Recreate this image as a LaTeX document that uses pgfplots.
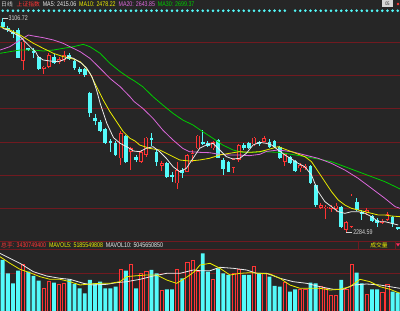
\documentclass[border=0pt]{standalone}
\usepackage{pgfplots}
\pgfplotsset{compat=1.18}
\usepackage{pgfplotstable}
\usepackage{fontspec}
\setmainfont{Liberation Sans}
\newfontfamily\cjk{Noto Sans CJK SC}
\newfontfamily\nar[FakeStretch=0.78]{Liberation Sans}

\definecolor{bg}{RGB}{38,38,38}
\definecolor{gridred}{RGB}{112,26,32}
\definecolor{ccyan}{RGB}{84,250,250}
\definecolor{cred}{RGB}{255,52,52}
\definecolor{mawhite}{RGB}{235,235,235}
\definecolor{mayellow}{RGB}{236,236,0}
\definecolor{mamag}{RGB}{218,104,218}
\definecolor{magreen}{RGB}{0,205,0}
\definecolor{lbl}{RGB}{215,215,215}

% falling days: i open high low close volume(1e8)
\pgfplotstableread{
i o h l c v
1 3092.6 3106.72 3067.0 3073.4 127.5
2 3069.6 3077.3 3054.2 3060.6 94.2
3 3054.2 3060.6 3028.6 3044.0 69.2
4 3060.6 3067.0 2951.8 2954.3 100.8
6 2990.2 2992.7 2979.9 2982.5 98.3
7 2979.9 2990.2 2954.3 2971.0 87.5
8 2958.2 2962.0 2906.9 2910.8 75.8
11 2958.2 2967.1 2928.7 2932.6 70.8
14 2964.6 2971.0 2945.3 2947.9 79.2
15 2941.5 2947.9 2906.9 2913.4 67.5
16 2909.5 2919.8 2890.3 2900.5 56.7
17 2910.8 2915.9 2881.3 2887.7 44.2
18 2819.8 2823.7 2727.6 2740.4 77.5
19 2723.8 2736.6 2695.6 2711.0 69.2
20 2708.4 2714.8 2670.0 2673.8 73.3
21 2679.0 2685.4 2621.3 2625.2 56.7
22 2634.2 2641.8 2593.2 2625.2 56.7
23 2627.7 2634.2 2576.5 2580.4 60.8
25 2653.4 2657.2 2550.9 2554.7 100.8
27 2574.0 2580.4 2554.7 2561.2 56.7
30 2646.9 2663.6 2616.2 2638.0 102.5
31 2593.2 2599.6 2539.4 2554.7 94.2
33 2550.9 2554.7 2493.3 2497.1 54.2
34 2503.5 2513.8 2477.9 2494.6 54.2
36 2522.7 2529.1 2493.3 2512.5 81.7
40 2631.6 2676.4 2618.8 2623.9 144.2
41 2625.2 2634.2 2612.4 2616.2 98.3
43 2638.0 2641.8 2567.6 2570.1 106.7
44 2561.2 2567.6 2503.5 2526.5 94.2
45 2554.7 2558.6 2513.8 2516.3 90.0
48 2618.8 2625.2 2599.6 2608.5 90.0
49 2627.7 2631.6 2603.4 2606.0 90.0
51 2629.0 2634.2 2616.2 2621.3 94.2
53 2631.6 2641.8 2608.5 2612.4 85.8
54 2634.2 2638.0 2608.5 2612.4 62.5
55 2612.4 2616.2 2565.0 2567.6 60.8
57 2574.0 2577.8 2544.5 2548.3 48.3
58 2558.6 2561.2 2516.3 2520.2 54.2
61 2539.4 2542.0 2467.7 2471.5 70.8
62 2465.1 2467.7 2381.9 2388.2 69.2
67 2381.9 2385.7 2301.2 2305.0 77.5
70 2401.1 2413.9 2365.2 2369.0 95.8
71 2362.6 2369.0 2330.6 2352.4 69.2
73 2346.0 2349.8 2321.7 2326.8 54.2
74 2330.6 2337.0 2305.0 2317.8 54.2
77 2343.5 2347.3 2305.0 2314.0 48.3
78 2302.4 2305.0 2292.2 2294.8 45.8
}\downtab

% rising days: i open high low close volume(1e8)
\pgfplotstableread{
i o h l c v
5 2941.5 3026.0 2906.9 3015.8 117.5
9 2910.8 2923.6 2891.6 2919.8 56.7
10 2919.8 2971.0 2915.9 2964.6 73.3
12 2936.4 2958.2 2930.0 2949.2 67.5
13 2945.3 2979.9 2939.0 2964.6 69.2
24 2567.6 2672.6 2542.0 2663.6 104.2
26 2593.2 2612.4 2522.7 2606.0 117.5
28 2554.7 2599.6 2548.3 2590.6 94.2
29 2580.4 2650.8 2574.0 2646.9 98.3
32 2539.4 2557.3 2518.9 2548.3 52.5
35 2471.5 2554.7 2449.7 2522.7 104.2
37 2516.3 2582.9 2513.8 2580.4 120.8
38 2580.4 2599.6 2554.7 2586.8 125.8
39 2606.0 2657.2 2603.4 2654.6 98.3
42 2606.0 2634.2 2599.6 2629.0 79.2
46 2531.7 2570.1 2509.9 2565.0 94.2
47 2561.2 2621.3 2554.7 2618.8 104.2
50 2621.3 2650.8 2616.2 2646.9 110.8
52 2631.6 2654.6 2629.0 2644.4 94.2
56 2554.7 2586.8 2539.4 2582.9 70.8
59 2529.1 2548.3 2516.3 2541.9 54.2
60 2531.7 2545.8 2522.7 2539.4 54.2
63 2378.0 2394.7 2372.9 2388.2 60.8
64 2375.4 2388.2 2334.5 2381.9 56.7
65 2372.9 2388.2 2362.6 2381.9 40.0
66 2372.9 2394.7 2362.6 2385.7 40.0
68 2292.2 2326.8 2284.59 2321.7 54.2
69 2305.0 2429.2 2301.2 2424.1 117.5
72 2360.1 2378.0 2349.8 2369.0 42.5
75 2320.4 2334.5 2314.0 2328.1 45.8
76 2330.6 2362.6 2326.8 2353.7 66.7
}\uptab

% rising-day bodies as segments: open row (s=1), close row (s=-1), gap row
\pgfplotstableread{
i y s
5 2941.5 1
5 3015.8 -1
nan 0 0
9 2910.8 1
9 2919.8 -1
nan 0 0
10 2919.8 1
10 2964.6 -1
nan 0 0
12 2936.4 1
12 2949.2 -1
nan 0 0
13 2945.3 1
13 2964.6 -1
nan 0 0
24 2567.6 1
24 2663.6 -1
nan 0 0
26 2593.2 1
26 2606.0 -1
nan 0 0
28 2554.7 1
28 2590.6 -1
nan 0 0
29 2580.4 1
29 2646.9 -1
nan 0 0
32 2539.4 1
32 2548.3 -1
nan 0 0
35 2471.5 1
35 2522.7 -1
nan 0 0
37 2516.3 1
37 2580.4 -1
nan 0 0
38 2580.4 1
38 2586.8 -1
nan 0 0
39 2606.0 1
39 2654.6 -1
nan 0 0
42 2606.0 1
42 2629.0 -1
nan 0 0
46 2531.7 1
46 2565.0 -1
nan 0 0
47 2561.2 1
47 2618.8 -1
nan 0 0
50 2621.3 1
50 2646.9 -1
nan 0 0
52 2631.6 1
52 2644.4 -1
nan 0 0
56 2554.7 1
56 2582.9 -1
nan 0 0
59 2529.1 1
59 2541.9 -1
nan 0 0
60 2531.7 1
60 2539.4 -1
nan 0 0
63 2378.0 1
63 2388.2 -1
nan 0 0
64 2375.4 1
64 2381.9 -1
nan 0 0
65 2372.9 1
65 2381.9 -1
nan 0 0
66 2372.9 1
66 2385.7 -1
nan 0 0
68 2292.2 1
68 2321.7 -1
nan 0 0
69 2305.0 1
69 2424.1 -1
nan 0 0
72 2360.1 1
72 2369.0 -1
nan 0 0
75 2320.4 1
75 2328.1 -1
nan 0 0
76 2330.6 1
76 2353.7 -1
}\upbody

\begin{document}
\begin{tikzpicture}
\fill[bg] (0,0) rectangle (400pt,311pt);
\useasboundingbox (0,0) rectangle (400pt,311pt);

\pgfplotsset{chart/.style={scale only axis, width=400pt, xmin=0.474, xmax=78.45,
  axis line style={draw=none}, major tick length=0pt, xtick=\empty, yticklabels={},
  ymajorgrids, grid style={gridred, line width=0.8pt}, anchor=south west},
  nomark/.style={only marks, mark=none, mark size=0pt, mark options={draw=none, fill=none}, forget plot}}

% ---------------- price panel ----------------
\begin{axis}[chart, at={(0pt,71pt)}, height=240pt, ymin=2253.8, ymax=3175.9,
  ytick={2375.4,2503.0,2630.6,2758.2,2885.8,3013.4}]
% wicks
\addplot[nomark, error bars/.cd, y dir=minus, y explicit,
  error mark=none, error bar style={draw=ccyan, line width=0.9pt}]
  table[x=i, y=h, y error minus expr=\thisrow{h}-\thisrow{l}] {\downtab};
\addplot[nomark, error bars/.cd, y dir=minus, y explicit,
  error mark=none, error bar style={draw=cred, line width=0.9pt}]
  table[x=i, y=h, y error minus expr=\thisrow{h}-\thisrow{l}] {\uptab};
% falling bodies (filled)
\addplot[nomark, error bars/.cd, y dir=minus, y explicit,
  error mark=none, error bar style={draw=ccyan, line width=3.8pt}]
  table[x=i, y=o, y error minus expr=\thisrow{o}-\thisrow{c}] {\downtab};
% rising bodies (hollow)
\addplot[cred, line width=3.8pt, mark=none, unbounded coords=jump, forget plot]
  table[x=i, y=y] {\upbody};
\addplot[bg, line width=2.1pt, mark=none, unbounded coords=jump, forget plot]
  table[x=i, y expr=\thisrow{y}+3.07*\thisrow{s}] {\upbody};

% MA30
\addplot[magreen, line width=0.8pt, mark=none] coordinates {
(0.5,2971.0) (2.4,2977.4) (4.4,2983.8) (7.0,2983.8) (8.9,2979.9) (10.9,2983.8)
(12.8,2990.2) (14.8,2996.6) (16.7,3005.6) (18.0,2996.6) (20.0,2971.0) (21.9,2932.6)
(23.9,2900.5) (25.8,2874.9) (26.6,2866.0) (28.3,2842.9) (30.3,2804.5) (32.2,2772.5)
(34.2,2740.4) (36.1,2714.8) (38.1,2695.6) (40.0,2670.0) (42.0,2644.4) (43.9,2618.8)
(45.9,2599.6) (47.8,2590.6) (49.8,2590.6) (51.7,2593.2) (54.7,2590.6) (57.3,2582.9)
(59.9,2574.0) (62.5,2565.0) (65.1,2554.7) (67.7,2535.5) (70.3,2516.3) (72.9,2497.1)
(75.5,2477.9) (78.45,2450.0)};
% MA20
\addplot[mamag, line width=0.8pt, mark=none] coordinates {
(0.5,2983.8) (2.4,2996.6) (4.4,3022.2) (6.0,3041.4) (7.0,3037.6) (8.9,3031.2)
(10.9,3022.2) (12.8,3009.4) (14.1,2996.6) (16.1,2977.4) (18.0,2951.8) (20.0,2913.3)
(21.9,2874.9) (23.9,2842.9) (25.8,2804.5) (26.6,2786.0) (28.3,2759.7) (30.3,2721.3)
(32.2,2676.4) (34.2,2638.0) (36.1,2606.0) (37.4,2593.2) (39.4,2590.6) (41.3,2589.3)
(43.3,2582.9) (45.2,2580.4) (47.2,2580.4) (49.1,2577.8) (51.1,2582.9) (52.4,2594.0)
(54.7,2599.6) (57.3,2593.2) (59.9,2580.4) (62.5,2567.6) (65.1,2548.3) (67.7,2522.7)
(70.3,2490.7) (72.9,2452.3) (75.5,2413.9) (77.5,2381.9) (78.45,2375.4)};
% MA10
\addplot[mayellow, line width=0.8pt, mark=none] coordinates {
(0.5,3073.4) (2.4,3060.6) (4.4,3041.4) (7.0,3009.4) (8.9,2990.2) (10.9,2971.0)
(12.8,2958.2) (14.4,2951.8) (16.1,2938.9) (17.0,2919.8) (18.0,2894.1) (19.3,2842.9)
(20.6,2791.7) (21.9,2746.8) (23.2,2708.4) (24.5,2670.0) (25.8,2644.4) (26.8,2634.2)
(27.7,2618.8) (29.6,2606.0) (31.6,2599.6) (32.9,2586.8) (34.2,2574.0) (35.5,2561.2)
(37.4,2557.3) (39.4,2561.2) (41.3,2567.6) (43.3,2580.4) (45.2,2586.8) (47.2,2593.2)
(49.1,2590.6) (51.1,2593.2) (52.4,2599.6) (54.7,2612.4) (57.3,2593.2) (59.9,2574.0)
(61.2,2554.7) (62.5,2516.3) (63.8,2477.9) (65.1,2439.5) (66.4,2407.5) (67.7,2388.2)
(69.0,2375.4) (70.3,2369.0) (71.6,2362.6) (72.9,2356.2) (74.2,2349.8) (75.5,2349.8)
(76.8,2346.0) (78.45,2343.5)};
% MA5
\addplot[mawhite, line width=0.8pt, mark=none] coordinates {
(1.0,3067.0) (2.0,3060.6) (4.4,3035.0) (6.65,2990.2) (7.4,2977.4) (7.9,2958.2)
(8.9,2945.4) (10.2,2941.5) (11.8,2938.9) (12.8,2945.4) (13.8,2958.2) (14.8,2951.8)
(16.4,2932.6) (17.4,2913.3) (18.4,2881.3) (19.3,2830.1) (20.0,2778.9) (21.3,2702.0)
(22.6,2646.9) (23.9,2625.2) (25.5,2608.5) (26.5,2595.7) (27.7,2593.2) (29.0,2606.0)
(30.3,2612.4) (31.6,2593.2) (32.9,2567.6) (34.2,2535.5) (35.5,2516.3) (36.8,2529.1)
(38.1,2567.6) (39.4,2606.0) (40.7,2618.8) (42.0,2625.2) (43.3,2599.6) (44.6,2574.0)
(45.9,2565.0) (47.2,2567.6) (48.5,2586.8) (49.8,2618.8) (51.1,2629.0) (52.4,2625.2)
(53.4,2618.8) (54.7,2599.6) (56.0,2580.4) (57.3,2565.0) (58.6,2548.3) (59.9,2535.5)
(61.2,2503.5) (62.5,2439.5) (63.8,2401.1) (65.1,2381.9) (66.4,2362.6) (67.7,2356.2)
(69.0,2362.6) (70.3,2362.6) (71.6,2356.2) (72.9,2343.5) (74.2,2324.2) (75.5,2324.2)
(76.8,2317.8) (78.1,2311.4)};

% day markers row
\addplot[only marks, mark=*, mark size=1.1pt, ccyan, mark options={draw=none, fill=ccyan}] coordinates {
(1,3134.8) (2,3134.8) (3,3134.8) (4,3134.8) (5,3134.8) (6,3134.8) (7,3134.8) (8,3134.8)
(9,3134.8) (10,3134.8) (11,3134.8) (12,3134.8) (13,3134.8) (14,3134.8) (15,3134.8) (16,3134.8)
(17,3134.8) (18,3134.8) (19,3134.8) (20,3134.8) (21,3134.8) (22,3134.8) (23,3134.8) (24,3134.8)
(25,3134.8) (26,3134.8) (27,3134.8) (28,3134.8) (29,3134.8) (30,3134.8) (31,3134.8) (32,3134.8)
(33,3134.8) (34,3134.8) (35,3134.8) (36,3134.8) (37,3134.8) (38,3134.8) (39,3134.8) (40,3134.8)
(41,3134.8) (42,3134.8) (43,3134.8) (44,3134.8) (45,3134.8) (46,3134.8) (47,3134.8) (48,3134.8)
(49,3134.8) (50,3134.8) (51,3134.8) (52,3134.8) (53,3134.8) (54,3134.8) (55,3134.8) (56,3134.8)
(58,3134.8) (59,3134.8) (60,3134.8) (61,3134.8) (62,3134.8) (63,3134.8) (64,3134.8)
(65,3134.8) (66,3134.8) (67,3134.8) (68,3134.8) (69,3134.8) (70,3134.8) (71,3134.8) (72,3134.8)
(73,3134.8) (74,3134.8) (75,3134.8) (76,3134.8) (77,3134.8) (78,3134.8)};

% high / low annotations
\draw[lbl, line width=0.6pt] (axis cs:1,3106.72) -- ++(5pt,0pt)
  node[anchor=west, inner sep=0.6pt, text=lbl, font=\nar\fontsize{6.8}{7}\selectfont] {3106.72};
\draw[lbl, line width=0.6pt] (axis cs:68,2284.59) -- ++(6pt,0pt)
  node[anchor=west, inner sep=0.6pt, text=lbl, font=\nar\fontsize{6.8}{7}\selectfont] {2284.59};
\end{axis}

% ---------------- volume panel ----------------
\begin{axis}[chart, at={(0pt,0pt)}, height=71pt, ymin=0, ymax=177.5,
  ytick={95,153.5,173.25}]
\addplot[ybar, bar width=3.9pt, bar shift=0pt, fill=ccyan, draw=none, forget plot]
  table[x=i, y=v] {\downtab};
\addplot[ybar, bar width=3.2pt, bar shift=0pt, fill=bg, draw=cred, line width=0.8pt, forget plot]
  table[x=i, y=v] {\uptab};
% MAVOL10
\addplot[mawhite, line width=0.8pt, mark=none] coordinates {
(0.47,144.2) (2.42,131.7) (4.37,119.2) (6.97,98.3) (9.57,87.5) (12.17,81.7)
(14.12,79.2) (16.72,69.2) (18.67,65.0) (21.27,66.7) (23.22,70.8) (25.17,73.3)
(27.76,79.2) (30.36,87.5) (32.96,94.2) (35.56,94.2) (38.16,102.5) (39.46,100.8)
(41.41,100.8) (43.36,109.2) (45.96,106.7) (48.56,102.5) (50.51,94.2) (52.46,94.2)
(55.06,81.7) (57.65,73.3) (60.25,69.2) (62.85,60.8) (65.45,54.2) (67.4,54.2)
(69.35,65.0) (71.95,67.5) (74.55,65.0) (76.5,60.8) (78.45,56.7)};
% MAVOL5
\addplot[mayellow, line width=0.8pt, mark=none] coordinates {
(0.47,135.8) (2.42,119.2) (4.37,104.2) (6.32,95.8) (8.27,85.8) (10.22,79.2)
(12.17,79.2) (14.12,73.3) (16.07,65.0) (18.02,67.5) (19.97,69.2) (21.92,69.2)
(23.87,73.3) (25.17,85.8) (26.46,87.5) (29.06,90.0) (31.01,90.0) (32.96,77.5)
(34.91,69.2) (36.21,79.2) (37.51,90.0) (38.5,100.0) (39.46,115.0) (41.41,119.2)
(43.36,106.7) (45.31,90.0) (47.26,94.2) (49.21,95.8) (51.16,94.2) (53.11,92.5)
(55.06,81.7) (57.0,65.0) (58.95,56.7) (60.9,56.7) (62.85,56.7) (64.8,52.5)
(66.75,54.2) (68.7,60.8) (70.65,79.2) (72.6,73.3) (74.55,60.8) (76.5,54.2)
(78.45,44.2)};
\end{axis}

% ---------------- texts ----------------
\tikzset{hd/.style={anchor=base west, inner sep=0pt}}
\node[hd, text=lbl, font=\cjk\fontsize{5.8}{6}\selectfont] (h1) at (1pt,304pt) {日线};
\node[hd, text=cred, font=\cjk\fontsize{5.8}{6}\selectfont] (h2) at ([xshift=3.5pt]h1.base east) {上证指数};
\node[hd, text=mawhite, font=\nar\fontsize{6.8}{7}\selectfont] (h3) at ([xshift=2.5pt]h2.base east) {MA5: 2415.06};
\node[hd, text=mayellow, font=\nar\fontsize{6.8}{7}\selectfont] (h4) at ([xshift=2.5pt]h3.base east) {MA10: 2478.22};
\node[hd, text=mamag, font=\nar\fontsize{6.8}{7}\selectfont] (h5) at ([xshift=2.5pt]h4.base east) {MA20: 2643.85};
\node[hd, text=magreen, font=\nar\fontsize{6.8}{7}\selectfont] (h6) at ([xshift=2.5pt]h5.base east) {MA30: 2699.37};

\node[hd, text=cred, font=\cjk\fontsize{5.8}{6}\selectfont] (v1) at (1pt,63pt) {总手};
\node[hd, text=cred, font=\nar\fontsize{6.8}{7}\selectfont] (v1b) at (v1.base east) {: 3430749400};
\node[hd, text=mayellow, font=\nar\fontsize{6.8}{7}\selectfont] (v2) at ([xshift=2.5pt]v1b.base east) {MAVOL5: 5185549808};
\node[hd, text=mawhite, font=\nar\fontsize{6.8}{7}\selectfont] (v3) at ([xshift=2.5pt]v2.base east) {MAVOL10: 5045650850};

\draw[gridred, line width=0.8pt] (358pt,61.7pt) rectangle (395pt,69.3pt);
\node[text=mayellow, font=\cjk\fontsize{5.8}{6}\selectfont, inner sep=0pt] at (379pt,65.5pt) {成交量};
\fill[cred!80!magenta] (396pt,67.5pt) -- (400pt,67.5pt) -- (398pt,64.5pt) -- cycle;

\fill[lbl] (382pt,304pt) rectangle (393pt,311pt);
\node[text=bg, font=\nar\fontsize{5}{5}\selectfont, inner sep=0pt] at (387.5pt,307.5pt) {05};
\fill[cred] (398pt,307pt) circle (1.3pt);
\end{tikzpicture}
\end{document}
